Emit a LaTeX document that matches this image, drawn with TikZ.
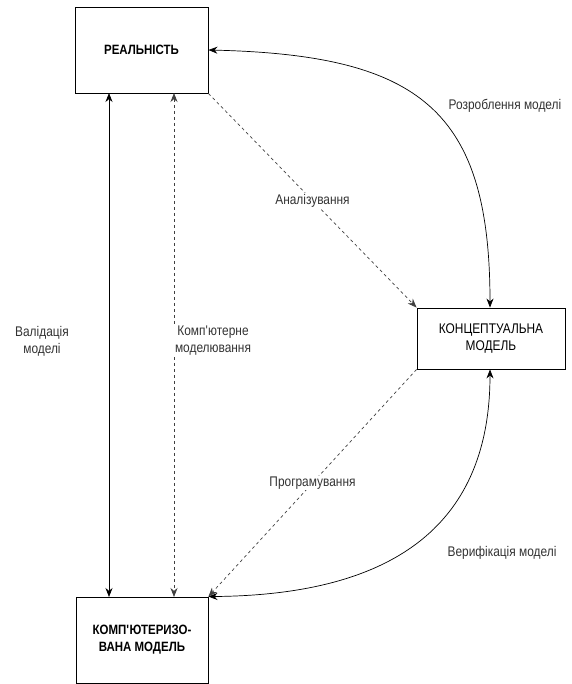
\documentclass[tikz,border=0pt]{standalone}
\usepackage{fontspec}
\setmainfont[FakeStretch=0.85]{Liberation Sans}
\usetikzlibrary{arrows.meta}
\begin{document}
\begin{tikzpicture}[x=1pt,y=-1pt,
  box/.style={draw,line width=0.9pt,minimum width=133pt,inner sep=0pt,align=center,font=\fontsize{14}{17}\selectfont},
  lbl/.style={font=\fontsize{14}{17}\selectfont,align=center,text=black!80,fill=white,inner sep=1pt},
  conn/.style={line width=0.7pt,-{Stealth[length=9pt,width=7pt]}},
  dconn/.style={conn,dash pattern=on 3pt off 3pt,draw=black!75}]
\useasboundingbox (0,0) rectangle (571,684);
\node[box,minimum height=86pt,font=\bfseries\fontsize{13.5}{17}\selectfont] (real) at (141.5,50) {РЕАЛЬНІСТЬ};
\node[box,minimum width=148pt,minimum height=61pt] (conc) at (491,338.5) {КОНЦЕПТУАЛЬНА\\МОДЕЛЬ};
\node[box,minimum width=132pt,minimum height=86pt,font=\bfseries\fontsize{13.5}{17}\selectfont] (comp) at (142,640) {КОМП\textquotesingle ЮТЕРИЗО-\\ВАНА МОДЕЛЬ};
\coordinate (rA) at (109,93);
\coordinate (cA) at (109,597);
\coordinate (rB) at (174,93);
\coordinate (cB) at (174,597);
\draw[conn,{Stealth[length=9pt,width=7pt]}-{Stealth[length=9pt,width=7pt]}] (rA) -- (cA);
\draw[dconn,{Stealth[length=9pt,width=7pt]}-{Stealth[length=9pt,width=7pt]}] (rB) -- (cB);
\node[lbl] (lval) at (42,341) {Валідація\\моделі};
\node[lbl] (lcm) at (213,341) {Комп\textquotesingle ютерне\\моделювання};
\draw[conn,{Stealth[length=9pt,width=7pt]}-{Stealth[length=9pt,width=7pt]}] (real.east) .. controls (420,55) and (490,110) .. (conc.north -| 490,0);
\draw[conn,{Stealth[length=9pt,width=7pt]}-{Stealth[length=9pt,width=7pt]}] (conc.south -| 490,0) .. controls (490,520) and (400,595) .. (comp.north east);
\draw[dconn] (real.south east) -- node[lbl,pos=0.5] (lan) {Аналізування} (conc.north west);
\draw[dconn] (conc.south west) -- node[lbl,pos=0.5] (lpr) {Програмування} (comp.north east);
\node[lbl] (lroz) at (505,106) {Розроблення моделі};
\node[lbl] (lver) at (502,553) {Верифікація моделі};
\end{tikzpicture}
\end{document}
